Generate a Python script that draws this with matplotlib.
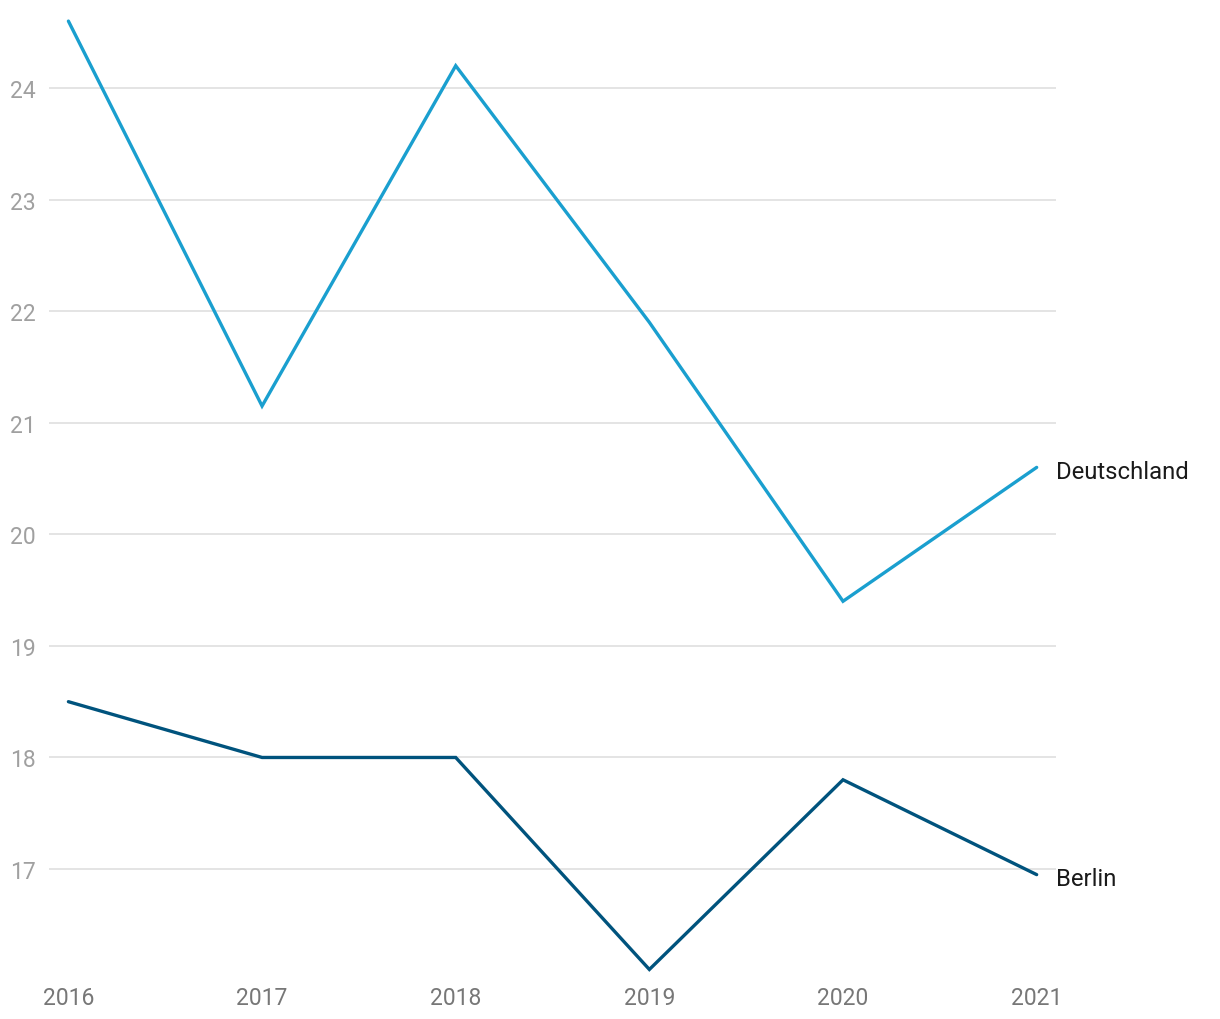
import numpy as np
import matplotlib.pyplot as plt

plt.rcParams['font.family'] = ['Roboto', 'DejaVu Sans']

# data
years = [2016, 2017, 2018, 2019, 2020, 2021]
deutschland = [24.6, 21.15, 24.2, 21.9, 19.4, 20.6]
berlin = [18.5, 18.0, 18.0, 16.1, 17.8, 16.95]
yticks = [17, 18, 19, 20, 21, 22, 23, 24]

fig = plt.figure(figsize=(12.2, 10.2), dpi=100)
ax = fig.add_axes([0.0402, 0.0431, 0.8254, 0.9407])

ax.plot(years, deutschland, color='#1a9fcf', lw=2.4, solid_capstyle='round', solid_joinstyle='miter')
ax.plot(years, berlin, color='#00537d', lw=2.4, solid_capstyle='round', solid_joinstyle='miter')

ax.annotate('Deutschland', (years[-1], deutschland[-1]), xytext=(14, -3), textcoords='offset points',
            fontsize=17.2, color='#1a1a1a', va='center', ha='left')
ax.annotate('Berlin', (years[-1], berlin[-1]), xytext=(14, -3), textcoords='offset points',
            fontsize=17.2, color='#1a1a1a', va='center', ha='left')

ax.set_xlim(2015.9, 2021.1)
ax.set_ylim(16.05, 24.65)
ax.set_xticks(years)
ax.set_yticks(yticks)
ax.tick_params(axis='both', length=0, labelsize=16.5)
ax.tick_params(axis='y', colors='#a0a0a0', pad=9.5)
ax.tick_params(axis='x', colors='#777777', pad=8)
ax.grid(axis='y', color='#e2e2e2', lw=1.3)
ax.set_axisbelow(True)
for s in ax.spines.values():
    s.set_visible(False)

fig.savefig('out.png', dpi=100)
